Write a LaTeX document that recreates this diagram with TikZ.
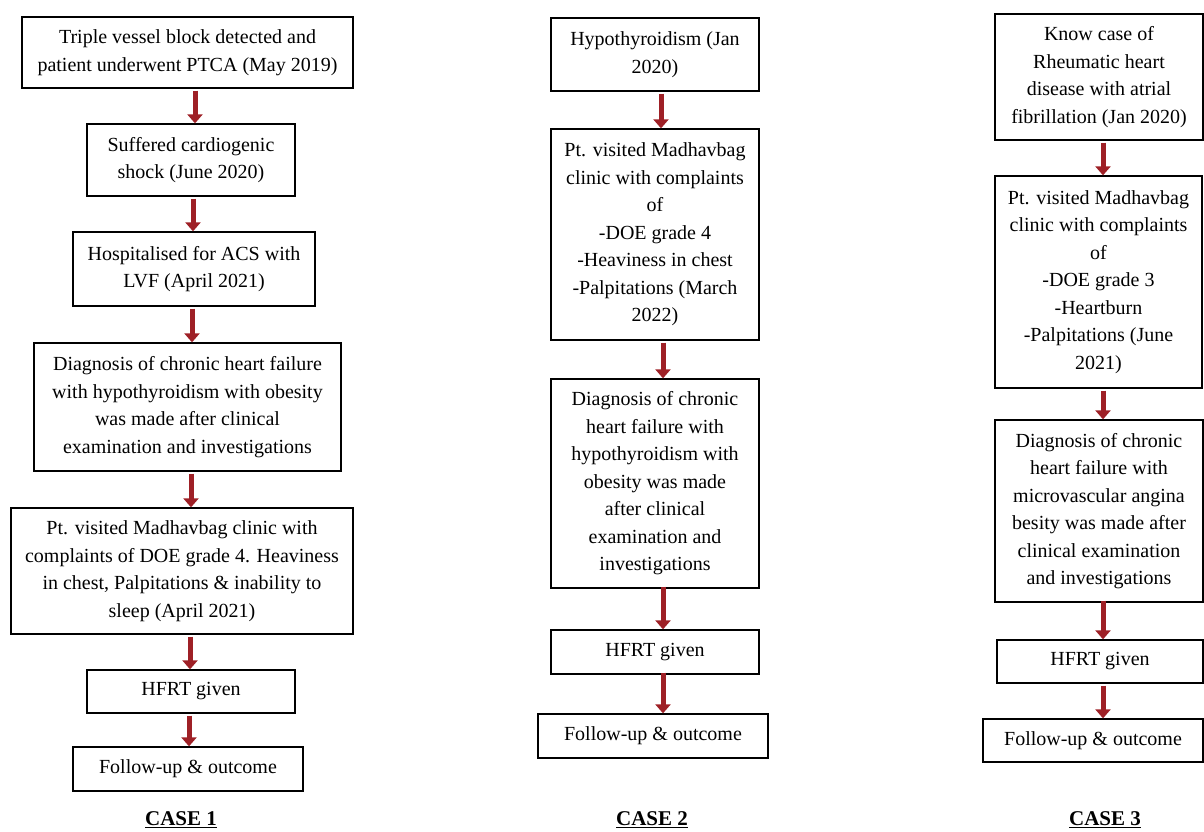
\documentclass[tikz,border=0pt]{standalone}
\usepackage{fontspec}
\setmainfont{Liberation Serif}
\usetikzlibrary{arrows.meta}
\definecolor{arrred}{RGB}{158,32,38}
\begin{document}
\begin{tikzpicture}[x=1pt,y=-1pt,
  box/.style={draw,line width=1.3pt,inner sep=0pt,align=center,
    font=\fontsize{20}{27.5}\selectfont},
  arr/.style={draw=arrred,line width=5pt,shorten <=2pt,
    -{Triangle[width=15pt,length=9pt]}},
  caselbl/.style={inner sep=0pt,font=\fontsize{21}{25}\selectfont\bfseries}]
\useasboundingbox (0,0) rectangle (1204,831);

% ---------- CASE 1 ----------
\node[box,minimum width=331pt,minimum height=71pt] (a1) at (187.5,52.5)
  {Triple vessel block detected and\\patient underwent PTCA (May 2019)};
\node[box,minimum width=208pt,minimum height=72pt] (a2) at (191,160)
  {Suffered cardiogenic\\shock (June 2020)};
\node[box,minimum width=242pt,minimum height=74pt] (a3) at (194,269)
  {Hospitalised for ACS with\\LVF (April 2021)};
\node[box,minimum width=307pt,minimum height=128pt] (a4) at (187.5,407)
  {Diagnosis of chronic heart failure\\with hypothyroidism with obesity\\was made after clinical\\examination and investigations};
\node[box,minimum width=342pt,minimum height=126pt] (a5) at (182,571)
  {Pt. visited Madhavbag clinic with\\complaints of DOE grade 4. Heaviness\\in chest, Palpitations \& inability to\\sleep (April 2021)};
\node[box,minimum width=208pt,minimum height=43pt] (a6) at (191,691.5)
  {HFRT given};
\node[box,minimum width=230pt,minimum height=44pt] (a7) at (188,769)
  {Follow-up \& outcome};
\node[caselbl] (c1) at (181,820) {\underline{CASE 1}};

\draw[arr] (a1.south -| 195,0) -- (a2.north -| 195,0);
\draw[arr] (a2.south -| 193,0) -- (a3.north -| 193,0);
\draw[arr] (a3.south -| 192,0) -- (a4.north -| 192,0);
\draw[arr] (a4.south -| 191,0) -- (a5.north -| 191,0);
\draw[arr] (a5.south -| 190,0) -- (a6.north -| 190,0);
\draw[arr] (a6.south -| 189,0) -- (a7.north -| 189,0);

% ---------- CASE 2 ----------
\node[box,minimum width=208pt,minimum height=73pt] (b1) at (655,54.5)
  {Hypothyroidism (Jan\\2020)};
\node[box,minimum width=208pt,minimum height=211pt] (b2) at (655,234.5)
  {Pt. visited Madhavbag\\clinic with complaints\\of\\-DOE grade 4\\-Heaviness in chest\\-Palpitations (March\\2022)};
\node[box,minimum width=208pt,minimum height=209pt] (b3) at (655,483.5)
  {Diagnosis of chronic\\heart failure with\\hypothyroidism with\\obesity was made\\after clinical\\examination and\\investigations};
\node[box,minimum width=208pt,minimum height=44pt] (b4) at (655,652)
  {HFRT given};
\node[box,minimum width=230pt,minimum height=44pt] (b5) at (653,736)
  {Follow-up \& outcome};
\node[caselbl] (c2) at (652,820) {\underline{CASE 2}};

\draw[arr] (b1.south -| 661,0) -- (b2.north -| 661,0);
\draw[arr] (b2.south -| 663,0) -- (b3.north -| 663,0);
\draw[arr] ([yshift=4pt]b3.south -| 663,0) -- (b4.north -| 663,0);
\draw[arr] ([yshift=4pt]b4.south -| 663,0) -- (b5.north -| 663,0);

% ---------- CASE 3 ----------
\node[box,minimum width=208pt,minimum height=126pt] (d1) at (1099,77)
  {Know case of\\Rheumatic heart\\disease with atrial\\fibrillation (Jan 2020)};
\node[box,minimum width=207pt,minimum height=212pt] (d2) at (1098.5,282)
  {Pt. visited Madhavbag\\clinic with complaints\\of\\-DOE grade 3\\-Heartburn\\-Palpitations (June\\2021)};
\node[box,minimum width=208pt,minimum height=182pt] (d3) at (1099,511)
  {Diagnosis of chronic\\heart failure with\\microvascular angina\\besity was made after\\clinical examination\\and investigations};
\node[box,minimum width=206pt,minimum height=43pt] (d4) at (1100,661.5)
  {HFRT given};
\node[box,minimum width=220pt,minimum height=43pt] (d5) at (1093,740.5)
  {Follow-up \& outcome};
\node[caselbl] (c3) at (1105,820) {\underline{CASE 3}};

\draw[arr] (d1.south -| 1103,0) -- (d2.north -| 1103,0);
\draw[arr] (d2.south -| 1103,0) -- (d3.north -| 1103,0);
\draw[arr] ([yshift=4pt]d3.south -| 1103,0) -- (d4.north -| 1103,0);
\draw[arr] (d4.south -| 1103,0) -- (d5.north -| 1103,0);
\end{tikzpicture}
\end{document}
